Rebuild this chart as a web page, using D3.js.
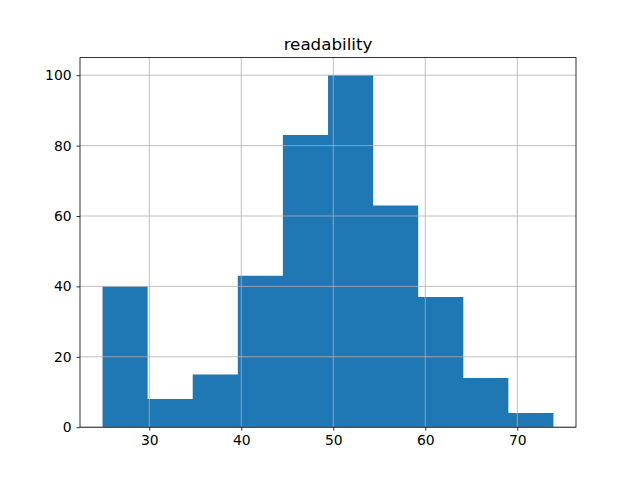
<!DOCTYPE html>
<html>
<head>
<meta charset="utf-8">
<script src="https://cdn.jsdelivr.net/npm/d3@7"></script>
<style>
  body { margin: 0; background: #fff; }
  svg { font-family: "DejaVu Sans", sans-serif; }
</style>
</head>
<body>
<svg id="chart" width="640" height="480"></svg>
<script>
// Histogram of readability scores (10 equal bins between min and max)
const binEdges = [24.92, 29.82, 34.72, 39.62, 44.52, 49.43, 54.33, 59.23, 64.13, 69.03, 73.93]
const counts = [40, 8, 15, 43, 83, 100, 63, 37, 14, 4]
const xTicks = [30, 40, 50, 60, 70]
const yTicks = [0, 20, 40, 60, 80, 100]
const title = "readability"

const svg = d3.select("#chart")
const margin = { left: 80, right: 64, top: 57.6, bottom: 52.8 }
const W = 640, H = 480

// matplotlib style 5% padding on x, top padding on y
const xMin = binEdges[0], xMax = binEdges[binEdges.length - 1]
const pad = (xMax - xMin) * 0.05
const x = d3.scaleLinear()
  .domain([xMin - pad, xMax + pad])
  .range([margin.left, W - margin.right])
const y = d3.scaleLinear()
  .domain([0, d3.max(counts) * 1.05])
  .range([H - margin.bottom, margin.top])

const bins = counts.map((c, i) => ({ x0: binEdges[i], x1: binEdges[i + 1], count: c }))

// bars as one path so neighbouring bars don't show antialias seams
const barPath = d3.path()
bins.forEach(d => barPath.rect(x(d.x0), y(d.count), x(d.x1) - x(d.x0), y(0) - y(d.count)))
svg.append("path")
  .attr("class", "bars")
  .attr("d", barPath.toString())
  .attr("fill", "#1f77b4")

// grid drawn above the bars, like pandas hist
const grid = svg.append("g").attr("stroke", "#b0b0b0").attr("stroke-width", 0.8)
grid.selectAll(".gx").data(xTicks).enter().append("line")
  .attr("x1", d => x(d)).attr("x2", d => x(d))
  .attr("y1", y.range()[0]).attr("y2", y.range()[1])
grid.selectAll(".gy").data(yTicks).enter().append("line")
  .attr("y1", d => y(d)).attr("y2", d => y(d))
  .attr("x1", x.range()[0]).attr("x2", x.range()[1])

// axes
const xAxis = svg.append("g")
  .attr("transform", `translate(0,${H - margin.bottom})`)
  .call(d3.axisBottom(x).tickValues(xTicks).tickSize(3.5).tickPadding(4.9).tickSizeOuter(0))
const yAxis = svg.append("g")
  .attr("transform", `translate(${margin.left},0)`)
  .call(d3.axisLeft(y).tickValues(yTicks).tickSize(3.5).tickPadding(4.9).tickSizeOuter(0))

for (const ax of [xAxis, yAxis]) {
  ax.select(".domain").remove()
  ax.selectAll("text").attr("font-size", "13.9px").attr("fill", "#000")
    .attr("font-family", "DejaVu Sans")
  ax.selectAll("line").attr("stroke", "#000").attr("stroke-width", 0.8)
}

// frame
svg.append("rect")
  .attr("x", margin.left).attr("y", margin.top)
  .attr("width", W - margin.left - margin.right)
  .attr("height", H - margin.top - margin.bottom)
  .attr("fill", "none").attr("stroke", "#000").attr("stroke-width", 0.8)

// title
svg.append("text")
  .attr("x", (margin.left + W - margin.right) / 2)
  .attr("y", margin.top - 8)
  .attr("text-anchor", "middle")
  .attr("font-size", "16.7px")
  .text(title)
</script>
</body>
</html>
